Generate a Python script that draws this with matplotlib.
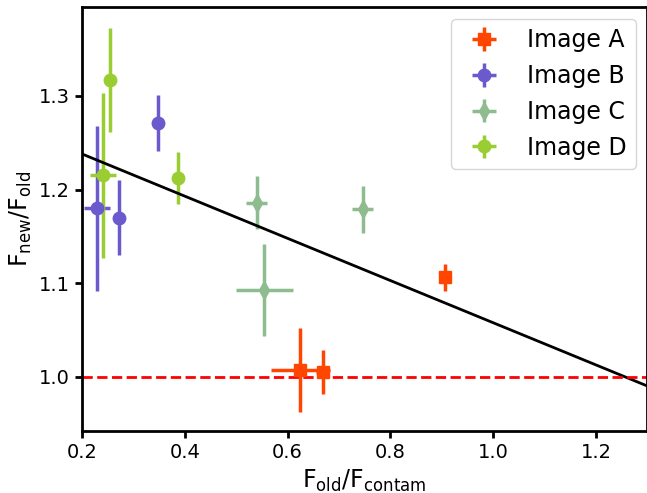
import numpy as np
import matplotlib
matplotlib.use("Agg")
import matplotlib.pyplot as plt

# flux ratios for each lensed image
a_x = [0.907, 0.625, 0.668]
a_y = [1.106, 1.007, 1.005]
a_xerr = [0.010, 0.058, 0.012]
a_yerr = [0.014, 0.045, 0.024]

b_x = [0.229, 0.272, 0.348]
b_y = [1.180, 1.170, 1.271]
b_xerr = [0.025, 0.0, 0.0]
b_yerr = [0.088, 0.040, 0.030]

c_x = [0.540, 0.555, 0.746]
c_y = [1.186, 1.093, 1.179]
c_xerr = [0.020, 0.055, 0.021]
c_yerr = [0.028, 0.049, 0.025]

d_x = [0.254, 0.241, 0.386]
d_y = [1.317, 1.215, 1.212]
d_xerr = [0.0, 0.025, 0.0]
d_yerr = [0.056, 0.088, 0.028]

# linear trend
fit_x = [0.2, 1.3]
fit_y = [1.238, 0.990]

fig = plt.figure(figsize=(6.47, 4.93), dpi=100)
ax = fig.add_axes([0.1267, 0.1258, 0.874, 0.860])

ax.errorbar(a_x, a_y, xerr=a_xerr, yerr=a_yerr, fmt="s", color="orangered",
            ms=9, elinewidth=2.5, label="Image A")
ax.errorbar(b_x, b_y, xerr=b_xerr, yerr=b_yerr, fmt="o", color="slateblue",
            ms=9, elinewidth=2.5, label="Image B")
ax.errorbar(c_x, c_y, xerr=c_xerr, yerr=c_yerr, fmt="d", color="darkseagreen",
            ms=9, elinewidth=2.5, label="Image C")
ax.errorbar(d_x, d_y, xerr=d_xerr, yerr=d_yerr, fmt="o", color="yellowgreen",
            ms=9, elinewidth=2.5, label="Image D")

ax.plot(fit_x, fit_y, color="black", lw=2)
ax.axhline(1.0, color="red", ls="--", lw=2)

ax.set_xlim(0.2, 1.3)
ax.set_ylim(0.942, 1.395)
ax.set_xticks([0.2, 0.4, 0.6, 0.8, 1.0, 1.2])
ax.set_yticks([1.0, 1.1, 1.2, 1.3])
ax.tick_params(labelsize=14, width=2, length=5)
for s in ax.spines.values():
    s.set_linewidth(2)

ax.set_xlabel(r"$\mathrm{F_{old}/F_{contam}}$", fontsize=17)
ax.set_ylabel(r"$\mathrm{F_{new}/F_{old}}$", fontsize=17)
ax.legend(loc="upper right", fontsize=17)

fig.savefig("out.png", dpi=100)
